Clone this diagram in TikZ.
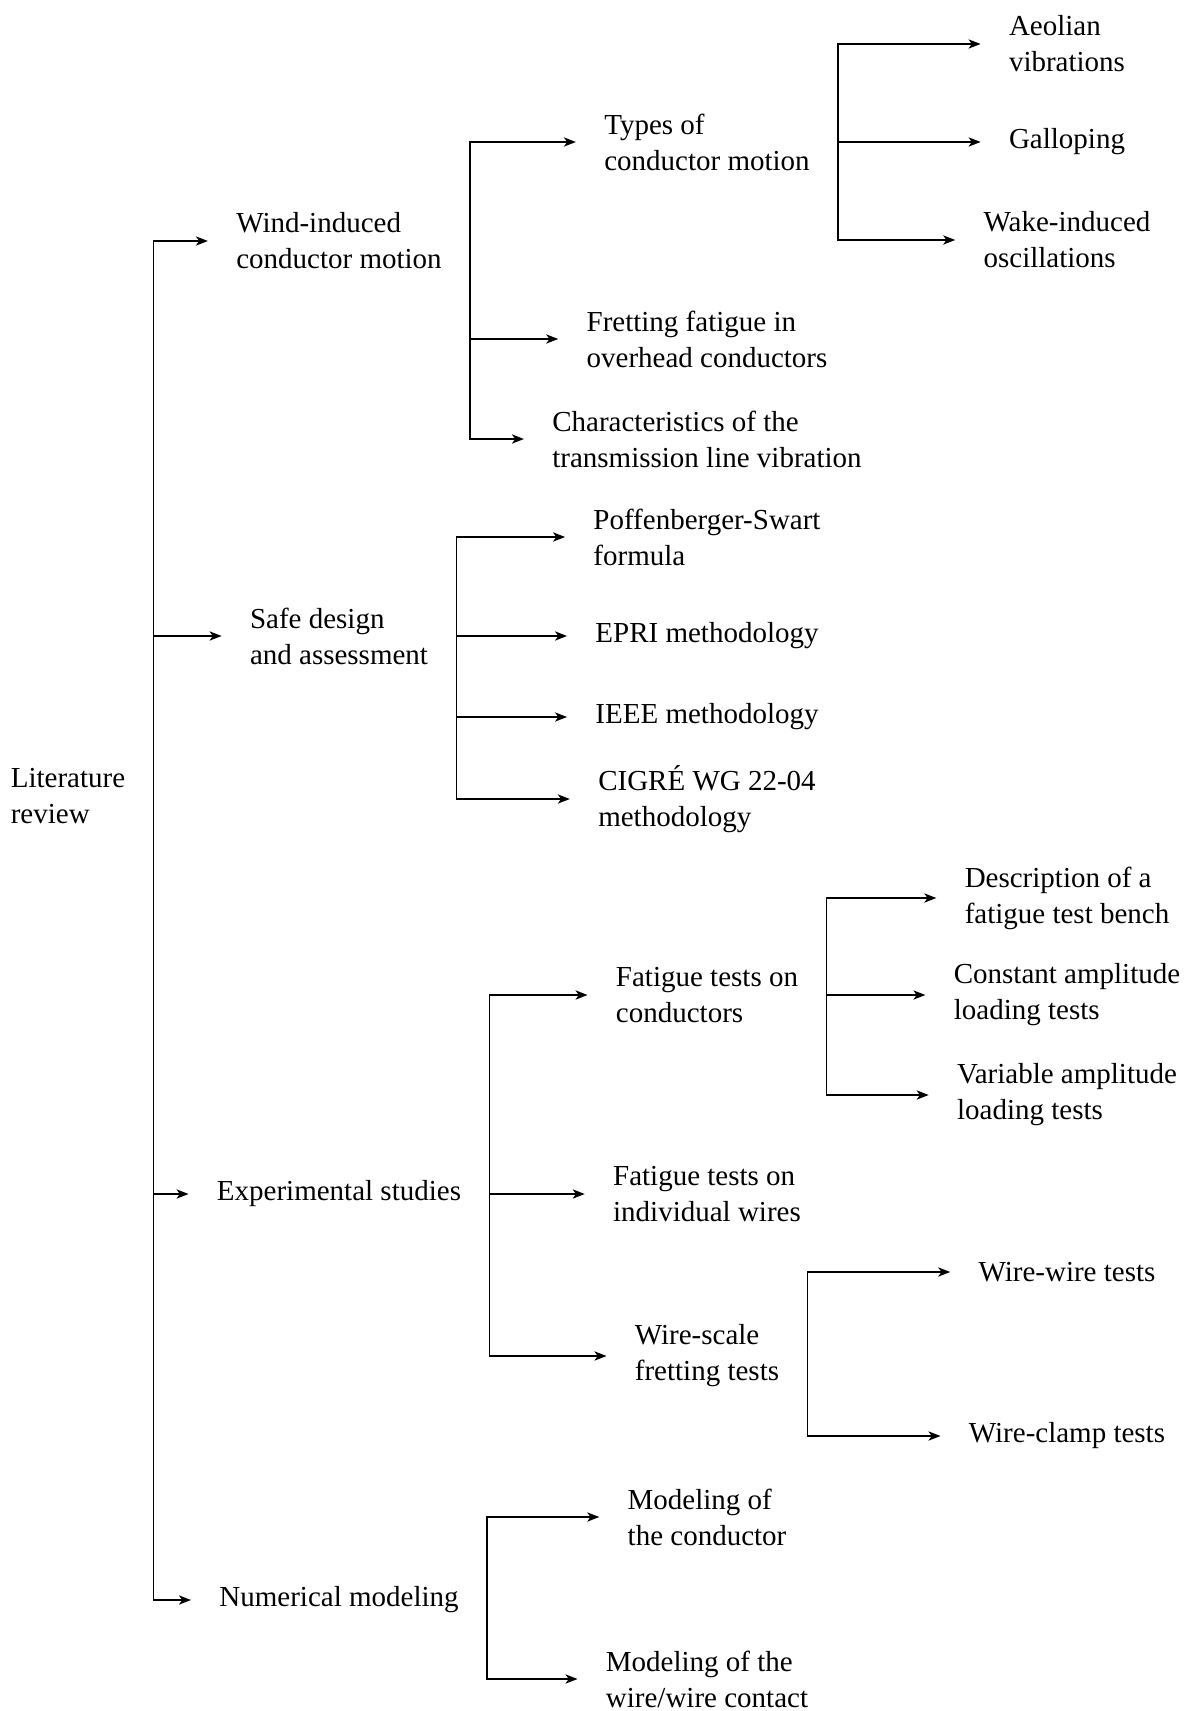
\documentclass[tikz,border=0pt]{standalone}
\usepackage{fontspec}
\setmainfont{Liberation Serif}
\usetikzlibrary{arrows.meta}

\begin{document}
\begin{tikzpicture}[
  x=0.5pt,y=-0.5pt,
  font=\fontsize{14.5}{18}\selectfont,
  item/.style={align=left,inner xsep=14pt,inner ysep=2pt},
  arr/.style={-{Stealth[length=6pt,width=4.6pt,inset=1.6pt]},line width=0.9pt},
]
\useasboundingbox (0,0) rectangle (1195,1711);
% root
\node[item] (lit) at (68,796) {Literature\\review};
% first level
\node[item] (wind) at (339,241) {Wind-induced\\conductor motion};
\node[item] (safe) at (339,636) {Safe design\\and assessment};
\node[item] (exper) at (339,1194) {Experimental studies};
\node[item] (numer) at (339,1600) {Numerical modeling};
% second level
\node[item] (types) at (707,142) {Types of\\conductor motion};
\node[item] (fret) at (707,339) {Fretting fatigue in\\overhead conductors};
\node[item] (charac) at (707,439) {Characteristics of the\\transmission line vibration};
\node[item] (poff) at (707,537) {Poffenberger-Swart\\formula};
\node[item] (epri) at (707,636) {EPRI methodology};
\node[item] (ieee) at (707,717) {IEEE methodology};
\node[item] (cigre) at (707,799) {CIGRÉ WG 22-04\\methodology};
\node[item] (cond) at (707,995) {Fatigue tests on\\conductors};
\node[item] (indiv) at (707,1194) {Fatigue tests on\\individual wires};
\node[item] (wscale) at (707,1356) {Wire-scale\\fretting tests};
\node[item] (modc) at (707,1517) {Modeling of\\the conductor};
\node[item] (modw) at (707,1679) {Modeling of the\\wire/wire contact};
% third level
\node[item] (aeol) at (1067,44) {Aeolian\\vibrations};
\node[item] (gallop) at (1067,142) {Galloping};
\node[item] (wake) at (1067,240) {Wake-induced\\oscillations};
\node[item] (desc) at (1067,898) {Description of a\\fatigue test bench};
\node[item] (const) at (1067,995) {Constant amplitude\\loading tests};
\node[item] (var) at (1067,1095) {Variable amplitude\\loading tests};
\node[item] (ww) at (1067,1272) {Wire-wire tests};
\node[item] (wc) at (1067,1436) {Wire-clamp tests};
% connectors
\draw[arr] (lit.east) |- (wind.west);
\draw[arr] (lit.east) |- (safe.west);
\draw[arr] (lit.east) |- (exper.west);
\draw[arr] (lit.east) |- (numer.west);
\draw[arr] (wind.east) |- (types.west);
\draw[arr] (wind.east) |- (fret.west);
\draw[arr] (wind.east) |- (charac.west);
\draw[arr] (types.east) |- (aeol.west);
\draw[arr] (types.east) |- (gallop.west);
\draw[arr] (types.east) |- (wake.west);
\draw[arr] (safe.east) |- (poff.west);
\draw[arr] (safe.east) |- (epri.west);
\draw[arr] (safe.east) |- (ieee.west);
\draw[arr] (safe.east) |- (cigre.west);
\draw[arr] (exper.east) |- (cond.west);
\draw[arr] (exper.east) |- (indiv.west);
\draw[arr] (exper.east) |- (wscale.west);
\draw[arr] (cond.east) |- (desc.west);
\draw[arr] (cond.east) |- (const.west);
\draw[arr] (cond.east) |- (var.west);
\draw[arr] (wscale.east) |- (ww.west);
\draw[arr] (wscale.east) |- (wc.west);
\draw[arr] (numer.east) |- (modc.west);
\draw[arr] (numer.east) |- (modw.west);
\end{tikzpicture}
\end{document}
